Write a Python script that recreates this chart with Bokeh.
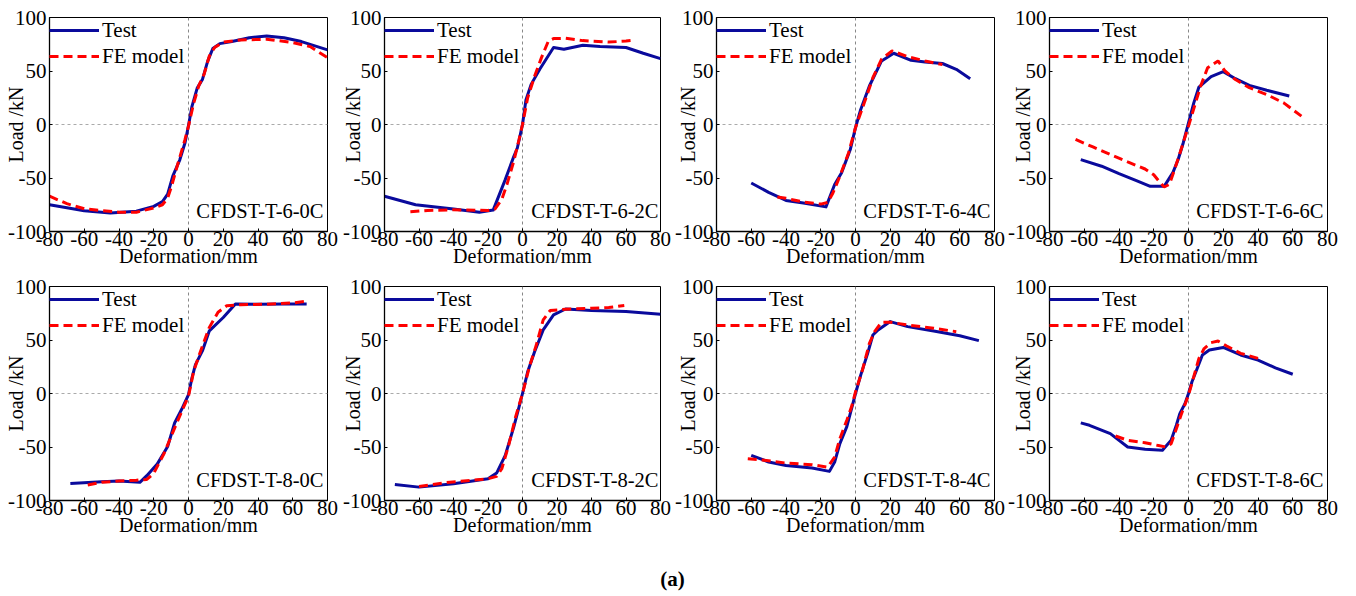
import math
from bokeh.plotting import figure
from bokeh.layouts import column, row
from bokeh.models import Span, Label, Legend, LegendItem, FixedTicker
from bokeh.embed import file_html
from bokeh.resources import INLINE

# ---------------- data ----------------
specimens = ["CFDST-T-6-0C", "CFDST-T-6-2C", "CFDST-T-6-4C", "CFDST-T-6-6C",
             "CFDST-T-8-0C", "CFDST-T-8-2C", "CFDST-T-8-4C", "CFDST-T-8-6C"]
x_tick_values = [-80, -60, -40, -20, 0, 20, 40, 60, 80]
y_tick_values = [-100, -50, 0, 50, 100]
series_labels = ["Test", "FE model"]
x_axis_title = "Deformation/mm"
y_axis_title = "Load /kN"
caption = "(a)"

# CFDST-T-6-0C
t60_test_x = [-80, -60, -45, -30, -20, -15, -12, -9, -5, -2, 0, 2, 5, 8, 11, 14, 18, 25, 35, 45, 55, 65, 80]
t60_test_y = [-75, -80.6, -82.8, -81, -76.5, -72, -65, -48, -33, -17, -1, 17, 34, 42, 59, 71, 75.6, 77.5, 81, 82.8, 81, 77.5, 69.7]
t60_fe_x = [-80, -70, -60, -40, -30, -20, -15, -12, -10, -6, -2, 0, 3, 6, 9, 12, 15, 20, 30, 45, 60, 70, 80]
t60_fe_y = [-67, -74, -78.8, -82, -82, -78, -75, -68.8, -59, -36, -14, -1.5, 20, 36.6, 47, 64, 72, 77, 79, 79.7, 76.6, 72.8, 62.5]

# CFDST-T-6-2C
t62_test_x = [-80, -62, -40, -25, -17, -10, -5, -3, 0, 2, 5, 10, 18, 24, 35, 45, 60, 70, 80]
t62_test_y = [-67, -75, -79, -82, -80, -51.5, -29.7, -22, 0, 23, 37.5, 51.6, 72, 70.3, 74, 72.8, 72, 66.6, 61.6]
t62_fe_x = [-65, -55, -40, -20, -16, -12, -9, -5, -2, 0, 3, 7, 11, 15, 18, 25, 35, 50, 60, 65]
t62_fe_y = [-81.6, -80.3, -79.7, -80.3, -79, -70, -56, -34, -14, 0, 25, 45, 62.5, 78, 80.3, 80.6, 78.4, 77, 78, 78.8]

# CFDST-T-6-4C
t64_test_x = [-60, -50, -40, -30, -17, -12, -8, -3, 0, 3, 8, 15, 22, 32, 40, 50, 58, 66]
t64_test_y = [-54.7, -63.4, -71, -73.4, -77, -56, -45, -23.4, -3, 14, 36, 59.4, 66.6, 60, 58.4, 57, 51.6, 42.8]
t64_fe_x = [-45, -40, -30, -20, -16, -13, -9, -4, 0, 5, 10, 15, 21, 30, 40, 50]
t64_fe_y = [-67.8, -69, -72.5, -74.4, -72.8, -64, -48.4, -26.6, -3, 20, 43.7, 61, 68.8, 63.4, 59.4, 56]

# CFDST-T-6-6C
t66_test_x = [-62, -50, -40, -30, -22, -14, -9, -6, -3, 0, 3, 6, 13, 20, 27, 35, 45, 58]
t66_test_y = [-32.8, -39, -46, -52.5, -57.8, -57.8, -45, -33, -17, 1.5, 20, 35, 44.7, 49.4, 42.8, 36.6, 32, 26.6]
t66_fe_x = [-65, -55, -45, -35, -25, -20, -17, -14, -11, -8, -4, 0, 4, 7, 11, 17, 21, 27, 35, 45, 55, 65]
t66_fe_y = [-14, -21, -28, -35, -41.6, -47, -53, -58.4, -56, -42, -22, -1.5, 20, 36, 53, 59.4, 50, 42, 34.4, 28, 20, 7.8]

# CFDST-T-8-0C
t80_test_x = [-68, -50, -40, -28, -24, -18, -12, -8, -4, 0, 2, 4, 8, 12, 20, 27, 40, 55, 68]
t80_test_y = [-84, -82.4, -81.8, -83, -76.8, -66, -49.5, -27.6, -15, -1, 14.7, 27, 39.8, 58.6, 71, 83.7, 83.4, 83.7, 83.7]
t80_fe_x = [-58, -50, -40, -30, -24, -20, -14, -8, -3, 0, 3, 7, 12, 17, 22, 30, 45, 60, 67]
t80_fe_y = [-85.6, -83, -81.8, -81, -80.3, -74.6, -55.8, -32.3, -13.5, -2.5, 21, 39.8, 61.8, 75.9, 82, 83, 83.4, 84.6, 86]

# CFDST-T-8-2C
t82_test_x = [-74, -60, -40, -20, -15, -10, -5, -2, 0, 3, 7, 12, 18, 25, 40, 60, 80]
t82_test_y = [-85, -87.5, -84.4, -79.7, -74.4, -57.8, -31, -12.5, 0, 20.3, 39, 59.4, 73.4, 79, 77.5, 76.6, 74]
t82_fe_x = [-60, -45, -30, -20, -15, -12, -8, -4, 0, 4, 8, 12, 16, 25, 40, 50, 59]
t82_fe_y = [-86.9, -83.4, -81.3, -79.7, -77.5, -70.3, -48.4, -21.9, 0, 25, 45.3, 68.8, 77.5, 78.8, 79.7, 80.3, 82.2]

# CFDST-T-8-4C
t84_test_x = [-60, -50, -40, -25, -15, -12, -9, -5, -2, 0, 3, 7, 10, 13, 20, 30, 45, 60, 71]
t84_test_y = [-57.8, -64, -67.2, -69.7, -72.8, -64, -46.9, -31, -12.5, 0, 17.2, 37.5, 54.7, 59.4, 67.2, 62.5, 58.4, 54, 49.4]
t84_fe_x = [-62, -55, -40, -25, -16, -12, -9, -5, -2, 0, 4, 8, 11, 15, 20, 30, 45, 58]
t84_fe_y = [-61, -61.9, -65, -66.6, -68.8, -59.4, -42.2, -25, -11, 1.6, 21.9, 46.9, 57.8, 66.6, 66.6, 64, 61, 57.8]

# CFDST-T-8-6C
t86_test_x = [-62, -57, -45, -35, -25, -15, -10, -7, -5, -2, 0, 2, 5, 8, 12, 20, 30, 40, 50, 60]
t86_test_y = [-27.5, -29.7, -37.5, -50, -52.2, -53, -43.7, -29.7, -18.8, -9.4, 0, 11, 23.4, 36, 40.6, 43, 36, 31.3, 24, 18]
t86_fe_x = [-42, -35, -25, -18, -13, -10, -7, -4, 0, 3, 6, 9, 13, 17, 22, 30, 40]
t86_fe_y = [-39.7, -43.7, -46, -48.4, -50, -47, -33, -18.8, -1.5, 15.6, 32.8, 42, 47.5, 49, 44.4, 37.5, 32.8]

test_x = [t60_test_x, t62_test_x, t64_test_x, t66_test_x, t80_test_x, t82_test_x, t84_test_x, t86_test_x]
test_y = [t60_test_y, t62_test_y, t64_test_y, t66_test_y, t80_test_y, t82_test_y, t84_test_y, t86_test_y]
fe_x = [t60_fe_x, t62_fe_x, t64_fe_x, t66_fe_x, t80_fe_x, t82_fe_x, t84_fe_x, t86_fe_x]
fe_y = [t60_fe_y, t62_fe_y, t64_fe_y, t66_fe_y, t80_fe_y, t82_fe_y, t84_fe_y, t86_fe_y]

# ---------------- style / layout ----------------
FONT = "Liberation Serif, Times New Roman, serif"
BLUE = "#0a0a9c"
RED = "#ff0000"
FRAME_W, FRAME_H = 278, 214
col_left = [49, 43, 44, 43]
col_right = [12, 12, 12, 29]
row_top = [17, 13]
BOTTOM = 42
ylab_standoff = [-22, -24, -27, -29]


def make_panel(i):
    r, c = divmod(i, 4)
    w = col_left[c] + FRAME_W + col_right[c]
    h = row_top[r] + FRAME_H + BOTTOM
    p = figure(width=w, height=h, x_range=(-80, 80), y_range=(-100, 100),
               output_backend="svg", toolbar_location=None,
               min_border_left=col_left[c], min_border_right=col_right[c],
               min_border_top=row_top[r], min_border_bottom=BOTTOM)
    p.grid.visible = False
    p.outline_line_color = "black"
    p.outline_line_width = 1
    p.background_fill_color = "white"
    p.border_fill_color = "white"

    for ax, ticks in ((p.xaxis[0], x_tick_values), (p.yaxis[0], y_tick_values)):
        ax.ticker = FixedTicker(ticks=ticks)
        ax.major_label_overrides = {t: str(t) for t in ticks}
        ax.major_tick_in = 3
        ax.major_tick_out = 0
        ax.minor_tick_in = 0
        ax.minor_tick_out = 0
        ax.axis_line_color = "black"
        ax.axis_line_width = 1.3
        ax.major_tick_line_color = "black"
        ax.major_label_text_font = FONT
        ax.major_label_text_font_size = "21px"
        ax.major_label_text_color = "black"
        ax.axis_label_text_font = FONT
        ax.axis_label_text_font_size = "20px"
        ax.axis_label_text_font_style = "normal"
        ax.axis_label_text_color = "black"
    p.yaxis[0].major_label_standoff = 3
    p.yaxis[0].axis_label = y_axis_title
    p.yaxis[0].axis_label_standoff = ylab_standoff[c]
    p.xaxis[0].major_label_standoff = 0
    p.xaxis[0].axis_label = x_axis_title
    p.xaxis[0].axis_label_standoff = -4

    p.add_layout(Span(location=0, dimension="height", line_color="#888888",
                      line_dash="3 3", line_width=1, level="underlay"))
    p.add_layout(Span(location=0, dimension="width", line_color="#aaaaaa",
                      line_dash="3 3", line_width=1, level="underlay"))

    r_test = p.line(test_x[i], test_y[i], line_color=BLUE, line_width=3, line_join="round")
    r_fe = p.line(fe_x[i], fe_y[i], line_color=RED, line_width=3, line_dash="9 5")

    legend = Legend(items=[LegendItem(label=series_labels[0], renderers=[r_test]),
                           LegendItem(label=series_labels[1], renderers=[r_fe])],
                    location="top_left")
    legend.margin = 0
    legend.padding = 0
    legend.spacing = 0
    legend.glyph_width = 50
    legend.glyph_height = 26
    legend.label_height = 26
    legend.label_standoff = 3
    legend.label_text_font = FONT
    legend.label_text_font_size = "21px"
    legend.label_text_color = "black"
    legend.border_line_color = None
    legend.background_fill_alpha = 0
    p.add_layout(legend)

    p.add_layout(Label(x=FRAME_W - 4, y=21, x_units="screen", y_units="screen",
                       text=specimens[i], text_align="right", text_baseline="middle",
                       text_font=FONT, text_font_size="20.5px", text_color="black"))
    return p


panels = [make_panel(i) for i in range(8)]

cap = figure(width=1356, height=54, x_range=(0, 1), y_range=(0, 1),
             output_backend="svg", toolbar_location=None,
             min_border=0)
cap.axis.visible = False
cap.grid.visible = False
cap.outline_line_color = None
cap.add_layout(Label(x=0.4956, y=0.33, text=caption,
                     text_align="center", text_baseline="middle", text_font=FONT,
                     text_font_size="21px", text_font_style="bold", text_color="black"))

layout = column(row(*panels[:4], spacing=0), row(*panels[4:], spacing=0), cap, spacing=0)

open("out.html", "w").write(file_html(layout, INLINE))
